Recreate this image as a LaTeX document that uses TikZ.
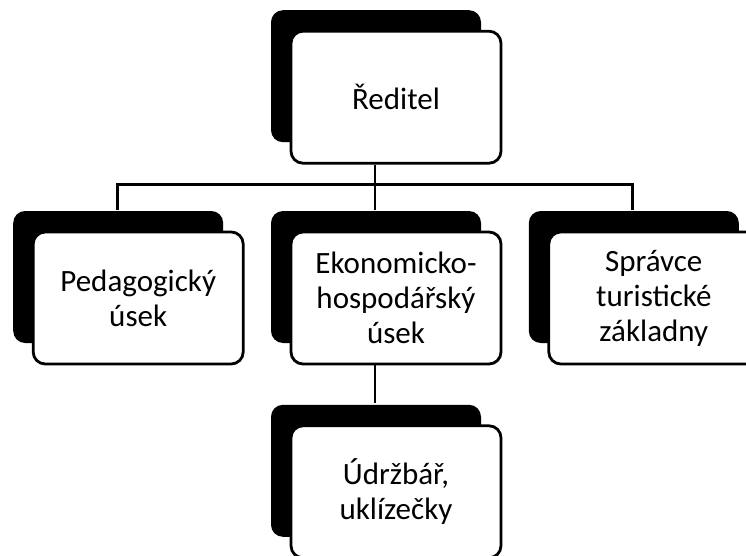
\documentclass[tikz,border=0pt]{standalone}
\usepackage{fontspec}
\setmainfont{Carlito}
\usepackage{tikz}
\usetikzlibrary{positioning,shadows}

\begin{document}
\begin{tikzpicture}[node distance=45pt,
  orgbox/.style={draw,line width=2.8pt,rounded corners=12pt,fill=white,minimum width=210pt,minimum height=132pt,align=center,font=\fontsize{31}{35}\selectfont,
    drop shadow={shadow xshift=-20pt,shadow yshift=21pt,fill=black,opacity=1}},
  link/.style={line width=2.8pt}]
\useasboundingbox (0,0) rectangle (746pt,-556pt);
\node[orgbox] (E) at (396pt,-298pt) {Ekonomicko-\\hospodářský\\úsek};
\node[orgbox] (R) [above=66pt of E] {Ředitel};
\node[orgbox] (P) [left=of E]  {Pedagogický\\úsek};
\node[orgbox] (S) [right=of E] {Správce\\turistické\\základny};
\node[orgbox] (U) [below=59pt of E] {Údržbář,\\uklízečky};
\coordinate (bus) at ([xshift=-21pt,yshift=-20pt]R.south);
\draw[link] ([xshift=-21pt]R.south) -- (bus);
\draw[link] ([xshift=-21pt,yshift=21pt]P.north) |- (bus) -| ([xshift=-21pt,yshift=21pt]S.north);
\draw[link] (bus) -- ([xshift=-21pt,yshift=21pt]E.north);
\draw[link] ([xshift=-21pt]E.south) -- ([xshift=-21pt,yshift=21pt]U.north);
\end{tikzpicture}
\end{document}
